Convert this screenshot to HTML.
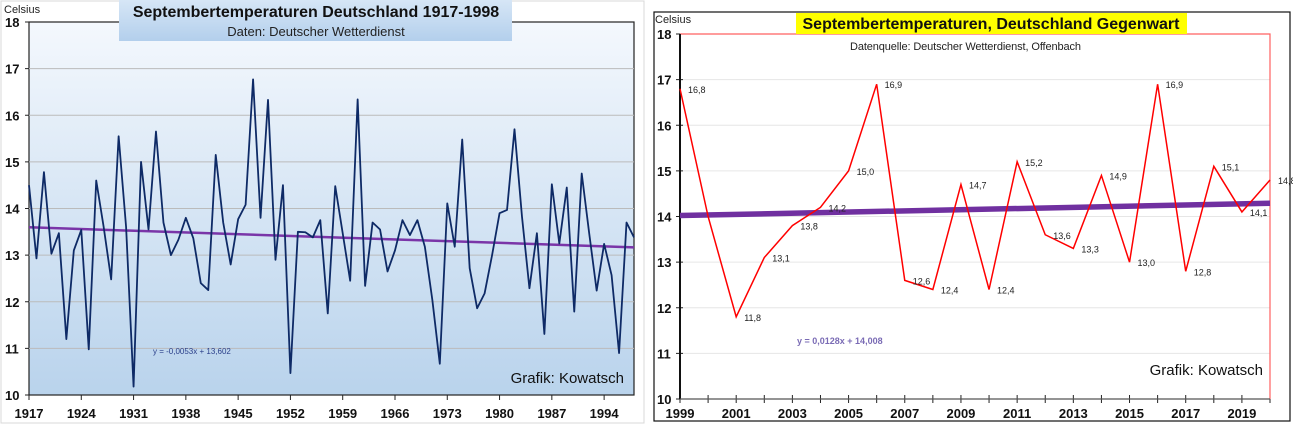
<!DOCTYPE html>
<html><head><meta charset="utf-8"><style>
body{margin:0;background:#fff;width:1293px;height:425px;overflow:hidden;font-family:"Liberation Sans",sans-serif}
svg{position:absolute;left:0;top:0}
</style></head><body>
<svg width="1293" height="425" viewBox="0 0 1293 425">
<defs>
<linearGradient id="bgL" x1="0" y1="0" x2="0" y2="1"><stop offset="0" stop-color="#f4f8fd"/><stop offset="1" stop-color="#b9d3ec"/></linearGradient>
<linearGradient id="ttl" x1="0" y1="0" x2="0" y2="1"><stop offset="0" stop-color="#d6e6f6"/><stop offset="1" stop-color="#b3cfec"/></linearGradient>
</defs>
<rect x="1" y="1" width="643" height="422" fill="none" stroke="#d8d8d8"/>
<g id="left"></g>
<g id="right"></g>
</svg>
<script>
const NS='http://www.w3.org/2000/svg';
const leftYears0=1917;
const leftValues=[14.5,12.93,14.78,13.03,13.47,11.2,13.1,13.54,10.98,14.6,13.6,12.48,15.55,13.6,10.18,15.0,13.55,15.65,13.7,13.0,13.33,13.8,13.36,12.4,12.25,15.15,13.7,12.8,13.77,14.08,16.77,13.8,16.33,12.9,14.5,10.47,13.5,13.49,13.38,13.75,11.75,14.48,13.47,12.45,16.34,12.34,13.7,13.55,12.65,13.1,13.75,13.43,13.75,13.18,12.04,10.67,14.11,13.18,15.48,12.72,11.86,12.18,13.0,13.9,13.97,15.7,13.83,12.29,13.47,11.31,14.52,13.25,14.45,11.79,14.75,13.47,12.24,13.24,12.57,10.9,13.7,13.38];
const leftXTicks=[1917,1924,1931,1938,1945,1952,1959,1966,1973,1980,1987,1994];
const leftYTicks=[10,11,12,13,14,15,16,17,18];
const leftTrend=[-0.0053,13.602];
const rightYears=[1999,2000,2001,2002,2003,2004,2005,2006,2007,2008,2009,2010,2011,2012,2013,2014,2015,2016,2017,2018,2019,2020];
const rightValues=[16.8,14.0,11.8,13.1,13.8,14.2,15.0,16.9,12.6,12.4,14.7,12.4,15.2,13.6,13.3,14.9,13.0,16.9,12.8,15.1,14.1,14.8];
const rightLabels=['16,8','','11,8','13,1','13,8','14,2','15,0','16,9','12,6','12,4','14,7','12,4','15,2','13,6','13,3','14,9','13,0','16,9','12,8','15,1','14,1','14,8'];
const rightXTicks=[1999,2001,2003,2005,2007,2009,2011,2013,2015,2017,2019];
const rightYTicks=[10,11,12,13,14,15,16,17,18];
const rightTrend=[0.0128,14.008];

function mk(p,tag,a,txt){const e=document.createElementNS(NS,tag);for(const k in a)e.setAttribute(k,a[k]);if(txt!==undefined)e.textContent=txt;p.appendChild(e);return e;}

// LEFT
(function(){
const g=document.getElementById('left');
const X0=29,X1=634,Y0=395,Y1=22;
const x=yr=>X0+(yr-1917)*(X1-X0)/(1998-1917);
const y=v=>Y0-(v-10)*(Y0-Y1)/8;
let r=mk(g,'rect',{x:X0,y:Y1,width:X1-X0,height:Y0-Y1,fill:'url(#bgL)',stroke:'#222','stroke-width':1.2});

leftYTicks.forEach(v=>{
 if(v>10&&v<18){const l=mk(g,'line',{x1:X0,x2:X1,y1:y(v),y2:y(v),stroke:'#bbb','stroke-width':1});}
 const t=mk(g,'text',{x:5,y:y(v)+5,'font-size':13,'font-weight':'bold',fill:'#111'},v);
 
 mk(g,'line',{x1:X0-4,x2:X0,y1:y(v),y2:y(v),stroke:'#222'});
});
leftXTicks.forEach(v=>{
 mk(g,'line',{x1:x(v),x2:x(v),y1:Y0,y2:Y0+5,stroke:'#222'});
 const t=mk(g,'text',{x:x(v),y:418,'font-size':13,'font-weight':'bold','text-anchor':'middle',fill:'#111'},v);
 
});
const tb=mk(g,'rect',{x:119,y:0,width:393,height:41,fill:'url(#ttl)'});

let t=mk(g,'text',{x:316,y:17,'font-size':16,'font-weight':'bold','text-anchor':'middle',fill:'#111'},'Septembertemperaturen Deutschland 1917-1998');

t=mk(g,'text',{x:316,y:36,'font-size':13,'text-anchor':'middle',fill:'#222'},'Daten: Deutscher Wetterdienst');

t=mk(g,'text',{x:4,y:13,'font-size':11,fill:'#222'},'Celsius');

const n=leftValues.length;
const tr=mk(g,'line',{x1:x(1917),y1:y(leftTrend[0]*1+leftTrend[1]),x2:x(1917+n-1),y2:y(leftTrend[0]*n+leftTrend[1]),stroke:'#7a35a8','stroke-width':2.5});

const pl=mk(g,'polyline',{points:leftValues.map((v,i)=>x(leftYears0+i)+','+y(v)).join(' '),fill:'none',stroke:'#0e2a66','stroke-width':1.8,'stroke-linejoin':'round'});

t=mk(g,'text',{x:153,y:354,'font-size':8,fill:'#2a3f8a'},'y = -0,0053x + 13,602');

t=mk(g,'text',{x:624,y:383,'font-size':15,'text-anchor':'end',fill:'#111'},'Grafik: Kowatsch');

})();

// RIGHT
(function(){
const g=document.getElementById('right');
const X0=680,X1=1270,Y0=399,Y1=34;
const x=yr=>X0+(yr-1999)*(X1-X0)/(2020-1999);
const y=v=>Y0-(v-10)*(Y0-Y1)/8;
let r=mk(g,'rect',{x:654,y:12,width:636,height:409,fill:'#fff',stroke:'#111','stroke-width':1.2});

rightYTicks.forEach(v=>{
 if(v>10&&v<18){const l=mk(g,'line',{x1:X0,x2:X1,y1:y(v),y2:y(v),stroke:'#e6e6e6','stroke-width':1});}
 const t=mk(g,'text',{x:657,y:y(v)+5,'font-size':13,'font-weight':'bold',fill:'#111'},v);
 
 mk(g,'line',{x1:X0-4,x2:X0+3,y1:y(v),y2:y(v),stroke:'#222'});
});
rightYears.forEach(v=>mk(g,'line',{x1:x(v),x2:x(v),y1:Y0-4,y2:Y0+4,stroke:'#222'}));
rightXTicks.forEach(v=>{
 const t=mk(g,'text',{x:x(v),y:418,'font-size':13,'font-weight':'bold','text-anchor':'middle',fill:'#111'},v);
 
});
mk(g,'polyline',{points:`${X0},${Y1} ${X1},${Y1} ${X1},${Y0}`,fill:'none',stroke:'#ff6060','stroke-width':1.2});
mk(g,'line',{x1:X0,x2:X0,y1:Y1,y2:Y0,stroke:'#111','stroke-width':2});
mk(g,'line',{x1:X0,x2:X1,y1:Y0,y2:Y0,stroke:'#555','stroke-width':1.2});
const tb=mk(g,'rect',{x:796,y:13,width:391,height:21,fill:'#ffff00'});

let t=mk(g,'text',{x:991,y:29,'font-size':16,'font-weight':'bold','text-anchor':'middle',fill:'#111'},'Septembertemperaturen, Deutschland Gegenwart');

t=mk(g,'text',{x:850,y:50,'font-size':11,fill:'#222',textLength:231},'Datenquelle: Deutscher Wetterdienst, Offenbach');

t=mk(g,'text',{x:655,y:23,'font-size':11,fill:'#222'},'Celsius');

const n=rightValues.length;
const tr=mk(g,'line',{x1:x(1999),y1:y(rightTrend[0]*1+rightTrend[1]),x2:x(1999+n-1),y2:y(rightTrend[0]*n+rightTrend[1]),stroke:'#7030a0','stroke-width':5.5});

const pl=mk(g,'polyline',{points:rightValues.map((v,i)=>x(rightYears[i])+','+y(v)).join(' '),fill:'none',stroke:'#ff0000','stroke-width':1.5});

rightValues.forEach((v,i)=>{
 if(!rightLabels[i])return;
 const lt=mk(g,'text',{x:x(rightYears[i])+8,y:y(v)+4,'font-size':9,fill:'#222'},rightLabels[i]);
 
});
t=mk(g,'text',{x:797,y:344,'font-size':9,'font-weight':'bold',fill:'#7a6bb5'},'y = 0,0128x + 14,008');

t=mk(g,'text',{x:1263,y:375,'font-size':15,'text-anchor':'end',fill:'#111'},'Grafik: Kowatsch');

})();
</script>
</body></html>
